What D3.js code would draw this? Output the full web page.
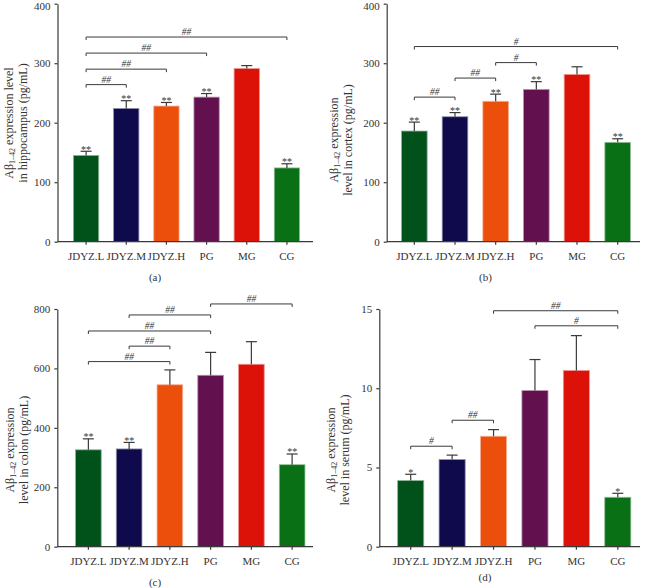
<!DOCTYPE html>
<html><head><meta charset="utf-8">
<script src="https://cdn.jsdelivr.net/npm/d3@7"></script>
<style>body{margin:0;background:#fff}svg{display:block}text{font-family:"Liberation Serif","DejaVu Serif",serif;fill:#333}</style>
</head><body><svg id="c" width="645" height="588"></svg>
<script>
const categories = ["JDYZ.L","JDYZ.M","JDYZ.H","PG","MG","CG"];
const colors = ["#00521a","#0e0a4c","#ec4e0c","#63104f","#dc1208","#0a7016"];

const valuesA = [145, 224, 228, 243, 291, 124];
const errorsA = [7, 13, 6, 6, 5, 7];
const starsA = ["**","**","**","**","",  "**"];
const bracketsA = [["JDYZ.L","JDYZ.M",264,"##"],["JDYZ.L","JDYZ.H",290,"##"],["JDYZ.L","PG",317,"##"],["JDYZ.L","CG",344,"##"]];
const ticksA = [0,100,200,300,400];

const valuesB = [186, 210, 236, 256, 281, 167];
const errorsB = [15, 7, 12, 13, 13, 6];
const starsB = ["**","**","**","**","","**"];
const bracketsB = [["JDYZ.L","JDYZ.M",243,"##"],["JDYZ.M","JDYZ.H",275,"##"],["JDYZ.H","PG",301,"#"],["JDYZ.L","CG",328,"#"]];
const ticksB = [0,100,200,300,400];

const valuesC = [326, 329, 545, 577, 614, 276];
const errorsC = [37, 22, 50, 77, 76, 36];
const starsC = ["**","**","","","","**"];
const bracketsC = [["JDYZ.L","JDYZ.H",623,"##"],["JDYZ.M","JDYZ.H",675,"##"],["JDYZ.L","PG",726,"##"],["JDYZ.M","PG",780,"##"],["PG","CG",817,"##"]];
const ticksC = [0,200,400,600,800];

const valuesD = [4.17, 5.5, 6.97, 9.85, 11.12, 3.12];
const errorsD = [0.4, 0.28, 0.42, 1.96, 2.2, 0.25];
const starsD = ["*","","","","","*"];
const bracketsD = [["JDYZ.L","JDYZ.M",6.34,"#"],["JDYZ.M","JDYZ.H",7.98,"##"],["PG","CG",13.94,"#"],["JDYZ.H","CG",14.89,"##"]];
const ticksD = [0,5,10,15];

const svg = d3.select("#c");

function panel(o){
  const g = svg.append("g");
  const y = d3.scaleLinear().domain([0,o.ymax]).range([o.y0,o.y1]);
  const x = d3.scaleBand().domain(categories).range([o.xr0,o.xr1]).paddingInner(0.37).paddingOuter(0.185);
  g.selectAll("rect.bar").data(o.values).join("rect")
    .attr("x",(d,i)=>x(categories[i])).attr("width",x.bandwidth())
    .attr("y",d=>y(d)).attr("height",d=>y(0)-y(d))
    .attr("fill",(d,i)=>colors[i])
    .attr("stroke",(d,i)=>d3.interpolateRgb(colors[i],"#fff")(0.55)).attr("stroke-width",0.8);
  const cx = i=>x(categories[i])+x.bandwidth()/2;
  o.values.forEach((v,i)=>{
    const t = y(v+o.errors[i]);
    g.append("line").attr("x1",cx(i)).attr("x2",cx(i)).attr("y1",y(v)).attr("y2",t).attr("stroke","#3a3a3a").attr("stroke-width",1.2);
    g.append("line").attr("x1",cx(i)-5.5).attr("x2",cx(i)+5.5).attr("y1",t).attr("y2",t).attr("stroke","#3a3a3a").attr("stroke-width",1.2);
    if(o.stars[i]) g.append("text").attr("x",cx(i)).attr("y",t+1.5).attr("text-anchor","middle").attr("font-size",10).text(o.stars[i]);
  });
  o.brackets.forEach(b=>{
    const xa = x(b[0])+x.bandwidth()/2, xb = x(b[1])+x.bandwidth()/2, yy = y(b[2]);
    g.append("path").attr("d",`M${xa},${yy+3}V${yy}H${xb}V${yy+3}`).attr("fill","none").attr("stroke","#3a3a3a").attr("stroke-width",1);
    g.append("text").attr("x",(xa+xb)/2).attr("y",yy-2).attr("text-anchor","middle").attr("font-size",9.5).attr("font-style","italic").text(b[3]);
  });
  const ya = g.append("g").attr("transform",`translate(${o.ax},0)`)
    .call(d3.axisLeft(y).tickValues(o.ticks).tickSize(3).tickPadding(4).tickSizeOuter(0));
  ya.selectAll("text").attr("font-size",11).attr("font-family","Liberation Serif, serif").attr("fill","#333");
  ya.selectAll(".tick text").filter(d=>o.y0-y(d)>200 && y(d)<8).attr("dy","0.5em");
  ya.selectAll("line,path").attr("stroke","#3a3a3a").attr("stroke-width",1.2);
  const xa = g.append("g").attr("transform",`translate(0,${o.y0})`)
    .call(d3.axisBottom(x).tickSize(3).tickPadding(8));
  xa.select(".domain").remove();
  xa.append("line").attr("x1",o.ax).attr("x2",o.axEnd).attr("stroke","#3a3a3a").attr("stroke-width",1.2);
  xa.selectAll("line").attr("stroke","#3a3a3a").attr("stroke-width",1.2);
  xa.selectAll("text").attr("font-size",11).attr("font-family","Liberation Serif, serif").attr("fill","#333");
  const lab = g.append("text").attr("transform",`translate(${o.lx},${o.ly}) rotate(-90)`).attr("text-anchor","middle").attr("font-size",12);
  const t1 = lab.append("tspan").attr("x",0).attr("y",0);
  t1.append("tspan").text("Aβ");
  t1.append("tspan").attr("font-size",8).attr("dy",2).text("1–42");
  t1.append("tspan").attr("dy",-2).text(" " + o.label1);
  lab.append("tspan").attr("x",0).attr("y",13.5).text(o.label2);
  g.append("text").attr("x",o.px).attr("y",o.py).attr("text-anchor","middle").attr("font-size",11).text(o.tag);
}

panel({values:valuesA,errors:errorsA,stars:starsA,brackets:bracketsA,ticks:ticksA,ymax:400,
  y0:241.7,y1:3.7,xr0:66,xr1:307,ax:57.5,axEnd:313,lx:13,ly:123,label1:"expression level",label2:"in hippocampus (pg/mL)",px:155,py:281,tag:"(a)"});
panel({values:valuesB,errors:errorsB,stars:starsB,brackets:bracketsB,ticks:ticksB,ymax:400,
  y0:241.7,y1:3.7,xr0:394,xr1:638,ax:386.7,axEnd:640,lx:338,ly:140,label1:"expression",label2:"level in cortex (pg/mL)",px:485.5,py:281,tag:"(b)"});
panel({values:valuesC,errors:errorsC,stars:starsC,brackets:bracketsC,ticks:ticksC,ymax:800,
  y0:546.7,y1:309,xr0:68,xr1:312.5,ax:57.3,axEnd:313,lx:14,ly:450,label1:"expression",label2:"level in colon (pg/mL)",px:155,py:586,tag:"(c)"});
panel({values:valuesD,errors:errorsD,stars:starsD,brackets:bracketsD,ticks:ticksD,ymax:15,
  y0:546.7,y1:309,xr0:390,xr1:638.5,ax:379.3,axEnd:640,lx:335,ly:450,label1:"expression",label2:"level in serum (pg/mL)",px:485,py:581,tag:"(d)"});
</script></body></html>
